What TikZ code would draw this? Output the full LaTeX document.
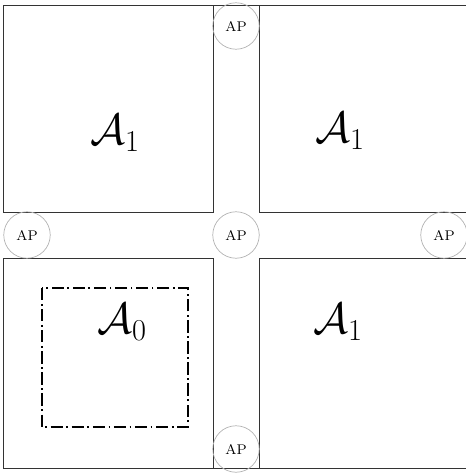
\documentclass[tikz,border=0pt]{standalone}
\usepackage{amsmath}

\begin{document}
\begin{tikzpicture}[x=0.02cm,y=-0.02cm]
\useasboundingbox (0,0) rectangle (466,473);
% Blocks around the crossing
\draw[black!80] (3,5) rectangle (213,212);
\draw[black!80] (466,5) -- (259,5) -- (259,212) -- (466,212);
\draw[black!80] (3,258) rectangle (213,468);
\draw[black!80] (466,258) -- (259,258) -- (259,468) -- (466,468);
\draw[black!80] (213,5) -- (259,5);
\draw[black!80] (213,468) -- (259,468);

% Access points
\node[circle,draw=gray!60,minimum size=0.93cm,inner sep=0pt] (apT) at (236,26) {\footnotesize AP};
\node[circle,draw=gray!60,minimum size=0.93cm,inner sep=0pt] (apL) at (27,235) {\footnotesize AP};
\node[circle,draw=gray!60,minimum size=0.93cm,inner sep=0pt] (apC) at (236,235) {\footnotesize AP};
\node[circle,draw=gray!60,minimum size=0.93cm,inner sep=0pt] (apR) at (444,235) {\footnotesize AP};
\node[circle,draw=gray!60,minimum size=0.93cm,inner sep=0pt] (apB) at (236,449) {\footnotesize AP};

% Area labels
\draw[thick,dash pattern=on 7pt off 2pt on 1pt off 2pt] (42,288) rectangle (188,427);
\node (areaTL) at (115,133) {\fontsize{25}{30}\selectfont $\mathcal{A}_1$};
\node (areaTR) at (340,131) {\fontsize{25}{30}\selectfont $\mathcal{A}_1$};
\node (areaZero) at (122,322) {\fontsize{25}{30}\selectfont $\mathcal{A}_0$};
\node (areaBR) at (338,322) {\fontsize{25}{30}\selectfont $\mathcal{A}_1$};
\end{tikzpicture}
\end{document}
